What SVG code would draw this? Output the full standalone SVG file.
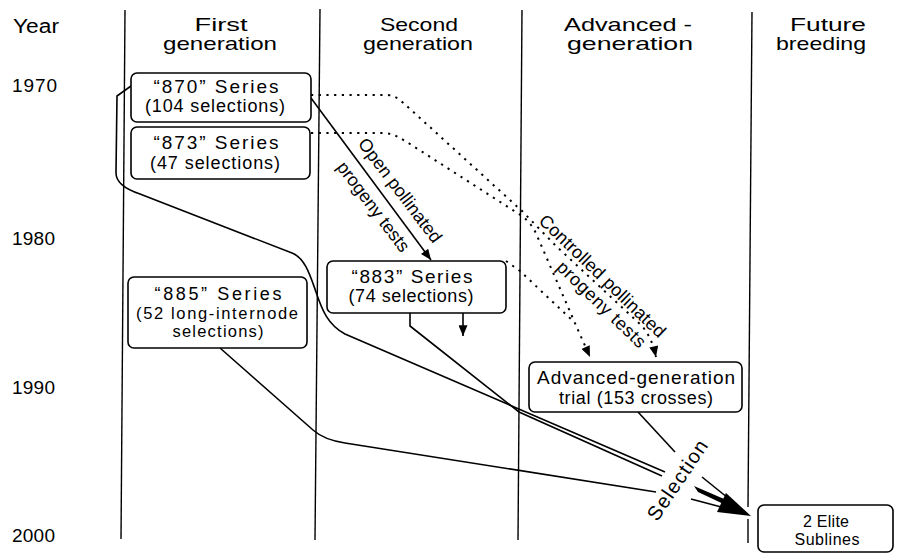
<svg xmlns="http://www.w3.org/2000/svg" width="903" height="554" viewBox="0 0 903 554">
<defs>
<style>
.t{font-family:"Liberation Sans",Arial,Helvetica,sans-serif;fill:#000;}
.h{font-size:19px;text-anchor:middle}
.yr{font-size:19px}
.bt{font-size:19px;text-anchor:middle}
.bs{font-size:18px;text-anchor:middle}
.lb{font-size:18px;text-anchor:middle}
.box{fill:#fff;stroke:#000;stroke-width:1.6}
.col{stroke:#000;stroke-width:1.4;fill:none}
.ln{stroke:#000;stroke-width:1.6;fill:none}
.dot{stroke:#000;stroke-width:2;fill:none;stroke-dasharray:2.2 5.5}
</style>
<marker id="ah" viewBox="0 0 12 10" refX="12" refY="5" markerWidth="12" markerHeight="9" orient="auto" markerUnits="userSpaceOnUse">
<path d="M0,0 L12,5 L0,10 z" fill="#000"/>
</marker>
</defs>
<rect width="903" height="554" fill="#fff"/>

<g id="columns">
<line class="col" x1="125" y1="10" x2="121" y2="539"/>
<line class="col" x1="320" y1="9" x2="315" y2="540"/>
<line class="col" x1="522" y1="10" x2="518" y2="540"/>
<line class="col" x1="752" y1="12" x2="748" y2="507"/>
<line class="col" x1="748" y1="519" x2="748" y2="543"/>
</g>

<g id="headers" class="t">
<text class="yr" x="13" y="33" textLength="46" lengthAdjust="spacingAndGlyphs" style="font-size:20px">Year</text>
<text class="h" x="221" y="31" textLength="53" lengthAdjust="spacingAndGlyphs">First</text>
<text class="h" x="220" y="50" textLength="114" lengthAdjust="spacingAndGlyphs">generation</text>
<text class="h" x="419" y="31" textLength="78" lengthAdjust="spacingAndGlyphs">Second</text>
<text class="h" x="418" y="50" textLength="110" lengthAdjust="spacingAndGlyphs">generation</text>
<text class="h" x="628" y="31" textLength="128" lengthAdjust="spacingAndGlyphs">Advanced -</text>
<text class="h" x="630" y="50" textLength="126" lengthAdjust="spacingAndGlyphs">generation</text>
<text class="h" x="828" y="31" textLength="76" lengthAdjust="spacingAndGlyphs">Future</text>
<text class="h" x="821" y="50" textLength="90" lengthAdjust="spacingAndGlyphs">breeding</text>
</g>

<g id="years" class="t">
<text class="yr" x="12" y="92" textLength="45">1970</text>
<text class="yr" x="12" y="245" textLength="43">1980</text>
<text class="yr" x="12" y="394" textLength="43">1990</text>
<text class="yr" x="12" y="542" textLength="43">2000</text>
</g>

<g id="connectors">
<line class="ln" x1="311" y1="98" x2="431" y2="260" marker-end="url(#ah)"/>
<path class="dot" d="M311,95 L388,95 C397,96 401,101 409,108 L522,211 L557,247 L640,324 C648,332 653,343 656,357" marker-end="url(#ah)"/>
<path class="dot" d="M311,133 L385,133 C395,134 400,138 410,144 L522,216 C530,222 535,230 538,238 L578,330 L590,357" marker-end="url(#ah)"/>
<path class="dot" d="M506,261 L520,271 L574,322"/>
<line class="ln" x1="463" y1="313" x2="463" y2="336" marker-end="url(#ah)"/>
<path class="ln" d="M131,86 L117,96 L116,173 C116,183 125,189 140,194 L292,253 C305,258 310,275 316,292 C322,310 328,325 345,334 L665,472"/>
<path class="ln" d="M410,313 L410,326 L519,412 L662,476"/>
<path class="ln" d="M220,348 L313,430 C322,438 332,441 345,443 L656,492"/>
<line class="ln" x1="638" y1="412" x2="675" y2="452"/>
<line class="ln" x1="702" y1="477" x2="733" y2="502"/>
<path d="M694,486 L698,492 L730,507 L731,502 z" fill="#000"/>
<line class="ln" x1="691" y1="499" x2="725" y2="508"/>
<path d="M751,516 L726,493 L717,512 z" fill="#000"/>
</g>

<g id="edge-labels" class="t">
<g transform="translate(310,98) rotate(52.9)">
<text class="lb" x="128" y="-10">Open pollinated</text>
<text class="lb" x="125" y="21">progeny tests</text>
</g>
<g transform="translate(522,211) rotate(44)">
<text class="lb" x="103" y="-3" textLength="168">Controlled pollinated</text>
<text class="lb" x="122" y="18" textLength="116">progeny tests</text>
</g>
<g transform="translate(683,484) rotate(-56)">
<text class="lb" x="0" y="0" style="font-size:20px" textLength="92">Selection</text>
</g>
</g>

<g id="n870">
<rect class="box" x="131" y="73" width="180" height="49" rx="6"/>
<text class="t bt" x="216" y="93" textLength="125">“870” Series</text>
<text class="t bs" x="215" y="112" textLength="140">(104 selections)</text>
</g>
<g id="n873">
<rect class="box" x="131" y="127" width="179" height="52" rx="6"/>
<text class="t bt" x="216" y="149" textLength="125">“873” Series</text>
<text class="t bs" x="215" y="169" textLength="130">(47 selections)</text>
</g>
<g id="n885">
<rect class="box" x="128" y="277" width="179" height="71" rx="6"/>
<text class="t bt" x="218" y="300" textLength="127" style="font-size:18px">“885” Series</text>
<text class="t bs" x="217" y="319" textLength="162" style="font-size:16.5px">(52 long-internode</text>
<text class="t bs" x="218" y="337" textLength="91" style="font-size:16.5px">selections)</text>
</g>
<g id="n883">
<rect class="box" x="327" y="261" width="179" height="52" rx="6"/>
<text class="t bt" x="412" y="283" textLength="121">“883” Series</text>
<text class="t bs" x="411" y="302" textLength="125">(74 selections)</text>
</g>
<g id="nAG">
<rect class="box" x="529" y="362" width="213" height="50" rx="6"/>
<text class="t bt" x="636" y="384" textLength="198">Advanced-generation</text>
<text class="t bs" x="636" y="404" textLength="154">trial (153 crosses)</text>
</g>
<g id="nElite">
<rect class="box" x="758" y="505" width="135" height="47" rx="6"/>
<text class="t" x="826" y="527" style="font-size:16px;text-anchor:middle" textLength="46">2 Elite</text>
<text class="t" x="827" y="545" style="font-size:16px;text-anchor:middle" textLength="65">Sublines</text>
</g>
</svg>
